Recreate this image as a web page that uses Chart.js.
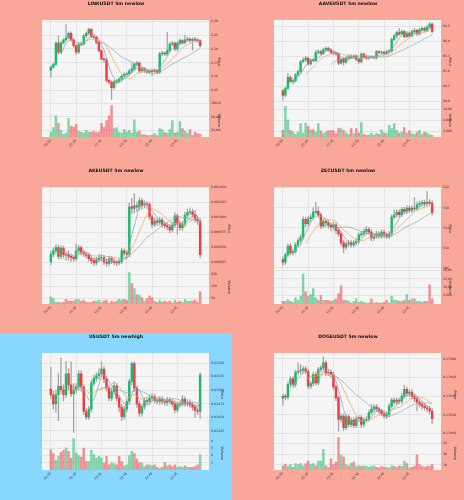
<!DOCTYPE html>
<html>
<head>
<meta charset="utf-8">
<script src="https://cdn.jsdelivr.net/npm/chart.js@4"></script>
<style>
html, body { margin: 0; padding: 0; }
body { width: 464px; height: 500px; overflow: hidden; font-family: "DejaVu Sans", sans-serif; }
#grid { display: grid; grid-template-columns: 232px 232px; grid-template-rows: 167px 166px 167px; }
.panel { position: relative; overflow: hidden; }
.panel h3 { position: absolute; top: 1px; left: 0; width: 100%; margin: 0; text-align: center;
  font-size: 4.6px; font-weight: bold; color: #111; }
.panel canvas { position: absolute; left: 0; top: 0; }
</style>
</head>
<body>
<div id="grid"></div>
<script>
// x tick labels (every 10 candles)
const timeLabels = ['09:25', '10:15', '11:05', '11:55', '12:45', '13:35'];
const timeTickIdx = [0, 10, 20, 30, 40, 50];

// LINKUSDT
const linkClose = [6.134,6.144,6.221,6.188,6.222,6.233,6.240,6.257,6.233,6.212,6.188,6.216,6.218,6.248,6.257,6.271,6.245,6.242,6.224,6.194,
  6.164,6.161,6.086,6.080,6.060,6.080,6.084,6.091,6.101,6.108,6.110,6.120,6.128,6.144,6.149,6.120,6.128,6.120,6.116,6.119,
  6.118,6.122,6.116,6.182,6.185,6.182,6.194,6.218,6.221,6.200,6.221,6.230,6.224,6.233,6.236,6.230,6.235,6.233,6.230,6.212];
const linkHigh = [6.140,6.150,6.226,6.248,6.228,6.238,6.288,6.262,6.262,6.238,6.216,6.222,6.226,6.252,6.262,6.276,6.275,6.250,6.246,6.228,
  6.198,6.168,6.165,6.092,6.084,6.086,6.090,6.096,6.106,6.114,6.116,6.126,6.148,6.150,6.155,6.153,6.134,6.132,6.124,6.124,
  6.124,6.128,6.126,6.188,6.192,6.190,6.260,6.224,6.228,6.226,6.226,6.236,6.234,6.250,6.242,6.240,6.240,6.242,6.238,6.234];
const linkLow = [6.098,6.130,6.140,6.182,6.184,6.218,6.228,6.236,6.228,6.206,6.180,6.184,6.210,6.214,6.242,6.252,6.240,6.236,6.218,6.188,
  6.158,6.150,6.080,6.072,6.017,6.054,6.074,6.078,6.086,6.096,6.102,6.104,6.114,6.122,6.138,6.114,6.114,6.114,6.110,6.110,
  6.104,6.112,6.110,6.110,6.176,6.176,6.176,6.188,6.212,6.194,6.194,6.216,6.218,6.218,6.228,6.224,6.196,6.226,6.224,6.206];
const linkVolume = [15000,28000,63000,41000,20000,8000,12000,55000,32000,30000,38000,18000,15000,12000,20000,14000,15000,18000,13000,15000,
  41000,30000,49000,63000,94000,25000,28000,15000,12000,22000,15000,20000,12000,51000,15000,18000,7000,7000,5000,4000,
  6000,10000,4000,25000,22000,13000,12000,22000,49000,12000,15000,46000,25000,18000,12000,22000,5000,15000,10000,8000];
const linkPriceTicks = [6.05, 6.10, 6.15, 6.20, 6.25, 6.30];
const linkVolTicks = [20000, 40000, 60000, 80000, 100000];

// AAVEUSDT
const aaveClose = [94.20,94.43,94.80,94.65,94.69,94.88,94.99,95.32,95.38,95.44,95.25,95.38,95.36,95.63,95.66,95.60,95.72,95.77,95.72,95.63,
  95.60,95.58,95.27,95.40,95.31,95.44,95.51,95.47,95.51,95.40,95.32,95.58,95.49,95.44,95.47,95.48,95.45,95.66,95.63,95.64,
  95.60,95.66,95.69,96.07,96.19,96.30,96.25,96.33,96.16,96.28,96.19,96.33,96.37,96.25,96.39,96.44,96.37,96.48,96.58,96.33];
const aaveHigh = [94.40,94.48,94.93,94.86,94.76,94.93,95.05,95.37,95.45,95.50,95.48,95.42,95.43,95.70,95.72,95.71,95.78,95.82,95.81,95.76,
  95.68,95.64,95.62,95.44,95.45,95.48,95.56,95.55,95.56,95.55,95.44,95.62,95.62,95.53,95.51,95.52,95.52,95.70,95.70,95.68,
  95.68,95.70,95.74,96.12,96.24,96.35,96.44,96.38,96.37,96.33,96.32,96.38,96.45,96.41,96.44,96.49,96.48,96.53,96.63,96.62];
const aaveLow = [94.04,94.15,94.39,94.60,94.60,94.64,94.84,94.95,95.28,95.33,95.20,95.21,95.31,95.32,95.58,95.55,95.56,95.68,95.67,95.58,
  95.55,95.53,95.22,95.23,95.20,95.27,95.40,95.43,95.43,95.36,95.26,95.28,95.45,95.40,95.40,95.43,95.41,95.41,95.59,95.59,
  95.56,95.56,95.62,95.65,96.03,96.12,96.20,96.21,96.12,96.12,96.14,96.15,96.29,96.20,96.21,96.35,96.33,96.33,96.44,96.28];
const aaveVolume = [2400,11000,6200,2400,1800,1000,1800,4800,1400,5000,3800,2600,2600,1800,4800,2200,1200,1800,2200,2400,
  2200,1200,3200,3000,2400,1400,1000,3000,1200,3000,1400,5200,1000,600,800,1400,700,1200,1000,2600,
  1400,1200,4200,3000,4800,2400,1400,1800,3400,1400,2200,1200,1000,1800,2400,1000,1800,1400,1000,600];
const aavePriceTicks = [94.0, 94.5, 95.0, 95.5, 96.0, 96.5];
const aaveVolTicks = [2000, 4000, 6000, 8000, 10000, 12000];

// AKEUSDT
const akeClose = [0.0009383,0.0009439,0.0009494,0.0009344,0.0009483,0.0009372,0.0009365,0.0009344,0.0009328,0.0009306,
  0.0009439,0.0009494,0.0009417,0.0009383,0.0009361,0.0009306,0.0009272,0.0009233,0.0009289,0.0009317,
  0.0009328,0.0009250,0.0009228,0.0009306,0.0009261,0.0009239,0.0009233,0.0009261,0.0009439,0.0009400,
  0.0009383,0.0010178,0.0010150,0.0010194,0.0010178,0.0010283,0.0010206,0.0010233,0.0010217,0.0010011,
  0.0009883,0.0009939,0.0009917,0.0009956,0.0009883,0.0009861,0.0009839,0.0009789,0.0009872,0.0010028,
  0.0009900,0.0009828,0.0009883,0.0010039,0.0010083,0.0010094,0.0010050,0.0009972,0.0009939,0.0009372];
const akeHigh = [0.000943,0.000949,0.000954,0.000953,0.000952,0.000952,0.000941,0.000944,0.000938,0.000936,
  0.000955,0.000953,0.000952,0.000945,0.000942,0.000940,0.000934,0.000931,0.000933,0.000937,
  0.000937,0.000936,0.000929,0.000935,0.000934,0.000930,0.000928,0.000930,0.000948,0.000947,
  0.000944,0.001024,0.001032,0.001040,0.001026,0.001033,0.001032,0.001028,0.001027,0.001025,
  0.001005,0.000999,0.000998,0.001000,0.000999,0.000992,0.000990,0.000988,0.000992,0.001008,
  0.001006,0.000994,0.000993,0.001009,0.001014,0.001016,0.001014,0.001012,0.001001,0.000998];
const akeLow = [0.000920,0.000934,0.000940,0.000930,0.000930,0.000932,0.000928,0.000928,0.000926,0.000926,
  0.000927,0.000940,0.000937,0.000934,0.000932,0.000926,0.000922,0.000919,0.000920,0.000925,
  0.000927,0.000921,0.000918,0.000919,0.000922,0.000920,0.000919,0.000920,0.000922,0.000936,
  0.000932,0.000934,0.001006,0.001008,0.001010,0.001012,0.001014,0.001016,0.001015,0.000996,
  0.000983,0.000984,0.000986,0.000987,0.000983,0.000981,0.000979,0.000974,0.000975,0.000983,
  0.000972,0.000978,0.000978,0.000984,0.000999,0.001004,0.001000,0.000992,0.000988,0.000932];
const akeVolume = [60,48,15,15,9,15,39,24,24,24,39,36,24,30,15,9,15,24,24,33,
  15,27,33,9,24,15,24,39,33,39,30,264,174,129,78,75,54,24,45,69,
  54,24,15,33,15,24,15,24,9,33,15,24,15,39,24,24,24,33,15,105];
const akePriceTicks = [0.000925, 0.000950, 0.000975, 0.001000, 0.001025, 0.001050];
const akeVolTicks = [50, 100, 150, 200, 250];

// ZECUSDT
const zecClose = [507.13,508.60,510.33,509.00,509.27,510.60,511.47,512.13,515.67,514.80,515.80,516.13,517.13,517.27,516.60,514.33,515.27,515.00,514.47,514.13,
  514.60,513.47,512.80,511.00,510.13,510.80,511.00,510.60,511.05,511.27,512.60,512.80,513.27,513.67,513.13,511.93,512.33,512.80,512.33,513.13,
  512.60,512.33,512.80,516.13,516.60,517.13,516.60,517.67,517.27,517.93,517.47,517.93,517.80,518.60,518.80,519.00,518.80,519.13,518.93,517.00];
const zecHigh = [508.2,509.0,510.8,510.8,509.8,511.0,511.9,512.6,516.2,516.1,516.3,516.7,518.0,519.0,518.2,517.0,515.8,515.7,515.5,515.0,
  515.1,515.0,514.0,513.2,511.5,511.3,511.5,511.5,511.5,511.8,513.0,513.3,513.8,514.3,514.1,513.6,512.8,513.3,513.2,513.6,
  513.6,513.0,513.3,516.6,517.6,517.6,517.6,518.1,518.1,518.4,518.4,518.4,520.0,519.1,519.3,519.5,519.5,521.3,519.6,519.4];
const zecLow = [506.5,506.7,508.2,508.6,508.6,508.9,510.2,511.0,511.7,514.2,514.4,515.3,515.7,516.7,516.1,513.8,513.9,514.2,513.9,513.5,
  513.7,512.9,512.3,510.5,509.0,509.7,510.3,510.1,510.2,510.6,510.9,512.1,512.4,512.8,512.7,511.4,511.5,511.9,511.9,511.9,
  512.1,511.9,511.9,512.4,515.7,516.1,516.1,516.2,516.8,516.8,517.0,517.0,517.3,517.4,518.2,518.4,518.3,518.4,518.5,516.5];
const zecVolume = [1600,1600,2700,1600,1000,3700,2200,4700,18000,7300,4700,5700,9200,3700,2000,5100,2200,2200,2200,1600,
  2200,3100,6300,10800,2200,2200,1600,600,1600,3100,1000,1600,1000,600,600,3100,600,1000,600,600,
  1000,2200,600,4700,2200,2200,1600,1600,2200,5700,2200,3100,3100,1600,1600,1000,1600,1600,11400,3100];
const zecPriceTicks = [506, 508, 510, 512, 514, 516, 518, 520, 522];
const zecVolTicks = [5000, 10000, 15000, 20000];

// USUSDT
const usClose = [0.014915,0.014748,0.014915,0.015069,0.015007,0.014915,0.015303,0.015100,0.014933,0.015007,
  0.015056,0.015303,0.015056,0.014607,0.014502,0.014650,0.015130,0.015223,0.015266,0.015303,
  0.015389,0.015204,0.015038,0.014853,0.014976,0.015081,0.014853,0.014687,0.014514,0.014650,
  0.014792,0.015161,0.015488,0.015038,0.014748,0.014576,0.014699,0.014810,0.014792,0.014853,
  0.014884,0.014810,0.014792,0.014835,0.014792,0.014773,0.014822,0.014792,0.014748,0.014638,
  0.014730,0.014748,0.014835,0.014748,0.014773,0.014730,0.014687,0.014625,0.014607,0.015284];
const usHigh = [0.01542,0.01498,0.01500,0.01530,0.01559,0.01510,0.01553,0.01540,0.01552,0.01512,
  0.01512,0.01536,0.01536,0.01510,0.01466,0.01470,0.01518,0.01528,0.01532,0.01540,
  0.01552,0.01544,0.01525,0.01508,0.01503,0.01516,0.01512,0.01490,0.01474,0.01470,
  0.01484,0.01520,0.01552,0.01552,0.01508,0.01480,0.01474,0.01486,0.01486,0.01490,
  0.01494,0.01493,0.01486,0.01488,0.01488,0.01484,0.01487,0.01487,0.01484,0.01480,
  0.01478,0.01480,0.01490,0.01488,0.01482,0.01482,0.01478,0.01473,0.01467,0.01532];
const usLow = [0.01485,0.01465,0.01459,0.01444,0.01495,0.01480,0.01486,0.01500,0.01488,0.01422,
  0.01495,0.01500,0.01498,0.01455,0.01446,0.01446,0.01460,0.01508,0.01516,0.01520,
  0.01525,0.01514,0.01498,0.01480,0.01480,0.01492,0.01480,0.01460,0.01444,0.01446,
  0.01460,0.01474,0.01510,0.01498,0.01468,0.01452,0.01452,0.01465,0.01474,0.01474,
  0.01480,0.01476,0.01474,0.01474,0.01474,0.01472,0.01472,0.01474,0.01470,0.01458,
  0.01459,0.01468,0.01470,0.01470,0.01470,0.01468,0.01463,0.01450,0.01455,0.01448];
const usVolume = [2.79,2.23,1.30,1.86,2.42,2.70,3.02,2.56,1.63,4.28,2.33,1.95,1.77,2.98,1.16,1.16,2.70,2.09,1.63,1.86,
  1.63,0.93,1.86,0.70,0.93,0.84,0.70,1.86,1.16,0.56,0.70,1.95,2.56,2.23,1.49,1.02,0.93,0.47,0.70,0.70,
  0.56,0.70,0.37,0.23,0.37,1.02,0.56,0.70,0.47,0.70,0.37,0.47,0.37,0.56,0.37,0.37,0.37,0.47,0.70,2.09];
const usPriceTicks = [0.01425, 0.01450, 0.01475, 0.01500, 0.01525, 0.01550];
const usVolTicks = [1, 2, 3, 4];

// DOGEUSDT
const dogeClose = [0.170400,0.170389,0.170525,0.170586,0.170525,0.170657,0.170668,0.170679,0.170693,0.170668,
  0.170507,0.170536,0.170632,0.170543,0.170686,0.170704,0.170757,0.170650,0.170657,0.170632,
  0.170500,0.170382,0.170150,0.170186,0.170061,0.170179,0.170097,0.170143,0.170086,0.170157,
  0.170168,0.170097,0.170143,0.170150,0.170222,0.170257,0.170286,0.170264,0.170240,0.170215,
  0.170186,0.170204,0.170293,0.170357,0.170336,0.170357,0.170347,0.170400,0.170472,0.170429,
  0.170443,0.170400,0.170372,0.170336,0.170311,0.170293,0.170275,0.170264,0.170240,0.170157];
const dogeHigh = [0.17042,0.17042,0.17055,0.17061,0.17061,0.17068,0.17076,0.17074,0.17072,0.17072,
  0.17069,0.17056,0.17066,0.17066,0.17071,0.17073,0.17082,0.17078,0.17068,0.17068,
  0.17066,0.17052,0.17040,0.17021,0.17021,0.17020,0.17020,0.17017,0.17017,0.17018,
  0.17019,0.17019,0.17017,0.17018,0.17025,0.17031,0.17031,0.17031,0.17028,0.17026,
  0.17024,0.17023,0.17032,0.17038,0.17038,0.17038,0.17038,0.17043,0.17052,0.17050,
  0.17047,0.17047,0.17042,0.17040,0.17036,0.17034,0.17032,0.17030,0.17029,0.17027];
const dogeLow = [0.17030,0.17036,0.17037,0.17050,0.17050,0.17050,0.17063,0.17064,0.17065,0.17064,
  0.17048,0.17048,0.17051,0.17052,0.17052,0.17066,0.17068,0.17062,0.17062,0.17060,
  0.17047,0.17035,0.17002,0.17012,0.17003,0.17004,0.17007,0.17007,0.17006,0.17006,
  0.17013,0.17006,0.17007,0.17012,0.17013,0.17020,0.17023,0.17024,0.17022,0.17019,
  0.17016,0.17016,0.17018,0.17027,0.17031,0.17031,0.17032,0.17032,0.17038,0.17040,
  0.17040,0.17037,0.17034,0.17024,0.17028,0.17026,0.17025,0.17023,0.17021,0.17010];
const dogeVolume = [8,11,7,10,5,12,10,12,8,12,17,10,12,8,17,17,39,8,5,21,
  10,15,61,28,25,10,8,13,15,7,8,7,8,7,5,7,8,5,4,7,
  5,5,4,8,7,5,8,7,17,12,4,5,7,28,10,7,5,7,7,10];
const dogePriceTicks = [0.17000, 0.17010, 0.17020, 0.17030, 0.17040, 0.17050, 0.17060, 0.17070, 0.17080];
const dogeVolTicks = [10, 20, 30, 40, 50, 60];

const SALMON = '#f9a799';
const SKY = '#89d7fe';
const UP = '#1fb86b';
const DOWN = '#f03c3f';
const UP_VOL = 'rgba(31,184,107,0.55)';
const DOWN_VOL = 'rgba(240,60,63,0.55)';
const GRID = '#d9d9d9';
const maDefs = [{ n: 5, color: '#7f9fc2' }, { n: 10, color: '#f2a35c' }, { n: 20, color: '#86aeb0' }];

const panels = [
  { title: 'LINKUSDT 5m newlow', bg: SALMON, open0: 6.122, close: linkClose, high: linkHigh, low: linkLow, vol: linkVolume,
    pTicks: linkPriceTicks, pMin: 6.002, pMax: 6.305, dec: 2, vTicks: linkVolTicks, vMax: 100000, axisW: 12 },
  { title: 'AAVEUSDT 5m newlow', bg: SALMON, open0: 94.35, close: aaveClose, high: aaveHigh, low: aaveLow, vol: aaveVolume,
    pTicks: aavePriceTicks, pMin: 93.92, pMax: 96.72, dec: 1, vTicks: aaveVolTicks, vMax: 12000, axisW: 11 },
  { title: 'AKEUSDT 5m newlow', bg: SALMON, open0: 0.000925, close: akeClose, high: akeHigh, low: akeLow, vol: akeVolume,
    pTicks: akePriceTicks, pMin: 0.0009106, pMax: 0.0010511, dec: 6, vTicks: akeVolTicks, vMax: 280, axisW: 22 },
  { title: 'ZECUSDT 5m newlow', bg: SALMON, open0: 507.67, close: zecClose, high: zecHigh, low: zecLow, vol: zecVolume,
    pTicks: zecPriceTicks, pMin: 505.47, pMax: 522.13, dec: 0, vTicks: zecVolTicks, vMax: 20000, axisW: 11 },
  { title: 'USUSDT 5m newhigh', bg: SKY, open0: 0.015020, close: usClose, high: usHigh, low: usLow, vol: usVolume,
    pTicks: usPriceTicks, pMin: 0.014145, pMax: 0.015685, dec: 5, vTicks: usVolTicks, vMax: 4.56, axisW: 15 },
  { title: 'DOGEUSDT 5m newlow', bg: SALMON, open0: 0.170379, close: dogeClose, high: dogeHigh, low: dogeLow, vol: dogeVolume,
    pTicks: dogePriceTicks, pMin: 0.169965, pMax: 0.170864, dec: 5, vTicks: dogeVolTicks, vMax: 63, axisW: 16 }
];

Chart.defaults.font.family = '"DejaVu Sans", sans-serif';

const plotBg = {
  id: 'plotBg',
  beforeDraw(chart) {
    const { ctx, chartArea: a } = chart;
    ctx.save();
    ctx.fillStyle = '#f5f5f5';
    ctx.fillRect(a.left, a.top, a.width, a.height);
    ctx.restore();
  }
};

function sma(arr, n) {
  return arr.map((v, i) => i < n - 1 ? null : arr.slice(i - n + 1, i + 1).reduce((a, b) => a + b, 0) / n);
}

function drawPanel(p, gridEl) {
  const panel = document.createElement('div');
  panel.className = 'panel';
  panel.style.background = p.bg;
  const h = document.createElement('h3');
  h.textContent = p.title;
  const canvas = document.createElement('canvas');
  canvas.width = 232;
  canvas.height = 166;
  panel.appendChild(canvas);
  panel.appendChild(h);
  gridEl.appendChild(panel);

  const n = p.close.length;
  const idx = p.close.map((c, i) => i);
  const open = p.close.map((c, i) => i === 0 ? p.open0 : p.close[i - 1]);
  const up = p.close.map((c, i) => c >= open[i]);

  const maSets = maDefs.map(m => {
    const ma = sma(p.close, m.n);
    return {
      type: 'line', data: idx.map(i => ({ x: i, y: ma[i] })), yAxisID: 'y',
      borderColor: m.color, borderWidth: 0.7, pointRadius: 0, fill: false, order: 0
    };
  });

  const tickFont = { size: 3.2 };
  const sideW = p.axisW;

  new Chart(canvas, {
    type: 'bar',
    data: {
      datasets: [
        ...maSets,
        { type: 'bar', data: idx.map(i => ({ x: i, y: [open[i], p.close[i]] })), yAxisID: 'y',
          backgroundColor: up.map(u => u ? UP : DOWN), barThickness: 1.8, minBarLength: 0.7, grouped: false, order: 1 },
        { type: 'bar', data: idx.map(i => ({ x: i, y: [p.low[i], p.high[i]] })), yAxisID: 'y',
          backgroundColor: '#a2a2a2', barThickness: 0.6, grouped: false, order: 2 },
        { type: 'bar', data: idx.map(i => ({ x: i, y: p.vol[i] })), yAxisID: 'yv',
          backgroundColor: up.map(u => u ? UP_VOL : DOWN_VOL), barThickness: 1.8, grouped: false, order: 2 }
      ]
    },
    options: {
      responsive: false,
      animation: false,
      layout: { padding: { left: 42, top: 20, right: 23 - sideW, bottom: 0 } },
      plugins: { legend: { display: false }, tooltip: { enabled: false }, title: { display: false } },
      scales: {
        x: {
          type: 'linear', min: -3.5, max: n + 2.5, offset: false,
          afterBuildTicks: s => { s.ticks = timeTickIdx.map(v => ({ value: v })); },
          afterFit: s => { s.height = 29; },
          ticks: { autoSkip: false, minRotation: 45, maxRotation: 45, font: tickFont, color: '#333', padding: 1.5,
            callback: (v, i) => timeLabels[i] },
          grid: { color: GRID, lineWidth: 0.6, drawTicks: false, offset: false },
          border: { display: false }
        },
        y: {
          position: 'right', stack: 'p', stackWeight: 2.5, min: p.pMin, max: p.pMax,
          afterBuildTicks: s => { s.ticks = p.pTicks.map(v => ({ value: v })); },
          afterFit: s => { s.width = sideW; },
          ticks: { font: tickFont, color: '#333', padding: 2, callback: v => v.toFixed(p.dec) },
          title: { display: true, text: 'Price', font: { size: 3.6 }, color: '#333', padding: 0 },
          grid: { color: GRID, lineWidth: 0.6, drawTicks: false },
          border: { display: false }
        },
        yv: {
          position: 'right', stack: 'p', stackWeight: 1, min: 0, max: p.vMax,
          afterBuildTicks: s => { s.ticks = p.vTicks.map(v => ({ value: v })); },
          afterFit: s => { s.width = sideW; },
          ticks: { font: tickFont, color: '#333', padding: 2 },
          title: { display: true, text: 'Volume', font: { size: 3.6 }, color: '#333', padding: 0 },
          grid: { color: GRID, lineWidth: 0.6, drawTicks: false },
          border: { display: false }
        }
      }
    },
    plugins: [plotBg]
  });
}

const gridEl = document.getElementById('grid');
panels.forEach(p => drawPanel(p, gridEl));
</script>
</body>
</html>
